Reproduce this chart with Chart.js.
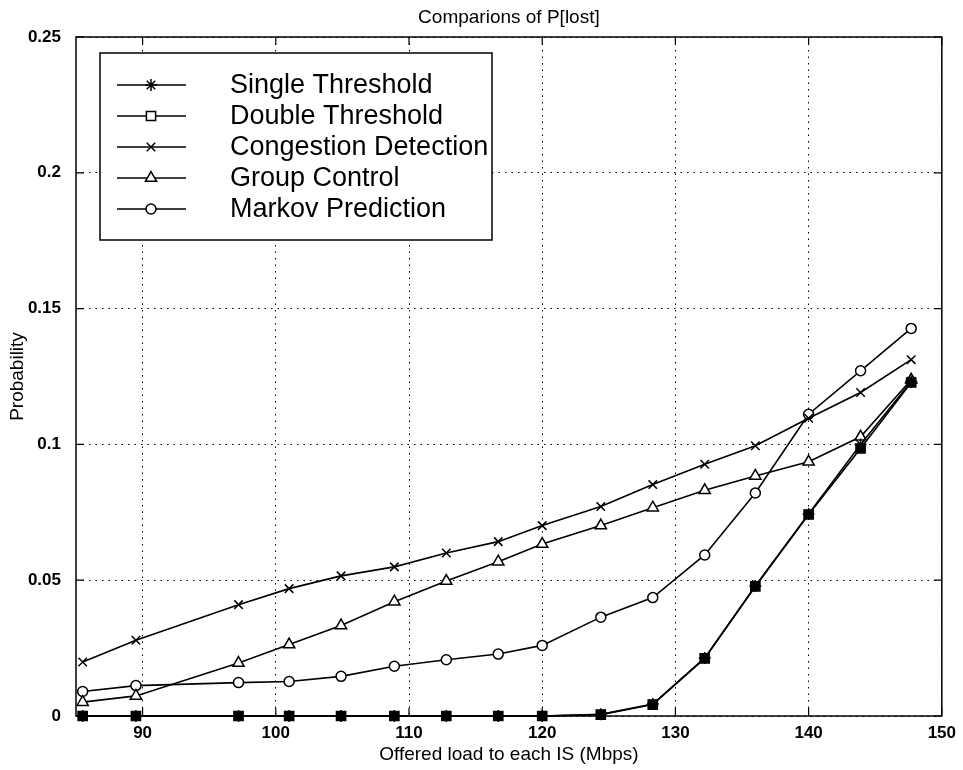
<!DOCTYPE html>
<html>
<head>
<meta charset="utf-8">
<script src="https://cdn.jsdelivr.net/npm/chart.js@4.4.1/dist/chart.umd.min.js"></script>
<style>
  html, body { margin: 0; padding: 0; background: #fff; }
</style>
</head>
<body>
<canvas id="chart1" width="963" height="770"></canvas>
<script>
// offered load (Mbps) for every sample
const loads = [85.5, 89.5, 97.2, 101.0, 104.9, 108.9, 112.8, 116.7, 120.0, 124.4, 128.3, 132.2, 136.0, 140.0, 143.9, 147.7];

const singleThreshold = [0, 0, 0, 0, 0, 0, 0, 0, 0, 0.0006, 0.0044, 0.0214, 0.0479, 0.0744, 0.1000, 0.1232];
const doubleThreshold = [0, 0, 0, 0, 0, 0, 0, 0, 0, 0.0005, 0.0042, 0.0212, 0.0477, 0.0742, 0.0985, 0.1228];
const congestionDetection = [0.0199, 0.0279, 0.0410, 0.0469, 0.0516, 0.0549, 0.0600, 0.0642, 0.0701, 0.0771, 0.0852, 0.0927, 0.0995, 0.1096, 0.1191, 0.1312];
const groupControl = [0.0051, 0.0074, 0.0195, 0.0263, 0.0333, 0.0421, 0.0497, 0.0568, 0.0633, 0.0701, 0.0767, 0.0831, 0.0884, 0.0936, 0.1028, 0.1238];
const markovPrediction = [0.0090, 0.0112, 0.0123, 0.0127, 0.0146, 0.0183, 0.0207, 0.0228, 0.0260, 0.0364, 0.0436, 0.0593, 0.0821, 0.1111, 0.1271, 0.1427];

const seriesNames = ['Single Threshold', 'Double Threshold', 'Congestion Detection', 'Group Control', 'Markov Prediction'];
const xTicks = [90, 100, 110, 120, 130, 140, 150];
const yTicks = [0, 0.05, 0.1, 0.15, 0.2, 0.25];
const yTickLabels = ['0', '0.05', '0.1', '0.15', '0.2', '0.25'];

const FONT = '"Liberation Sans", Arial, Helvetica, sans-serif';

function pts(values) {
  return values.map((v, i) => ({ x: loads[i], y: v }));
}

function series(label, values, style, radius, fill) {
  return {
    label: label,
    data: pts(values),
    borderColor: '#000',
    borderWidth: 1.6,
    pointStyle: style,
    pointRadius: radius,
    pointHoverRadius: radius,
    pointBorderColor: '#000',
    pointBorderWidth: 1.5,
    pointBackgroundColor: fill,
    tension: 0,
    clip: false
  };
}

const datasets = [
  series(seriesNames[0], singleThreshold, 'star', 6, '#000'),
  series(seriesNames[1], doubleThreshold, 'rect', 6.5, '#000'),
  series(seriesNames[2], congestionDetection, 'crossRot', 6, '#fff'),
  series(seriesNames[3], groupControl, 'triangle', 6.5, '#fff'),
  series(seriesNames[4], markovPrediction, 'circle', 5, '#fff')
];

// frame + inward tick marks, like a matlab box
const framePlugin = {
  id: 'frame',
  beforeDatasetsDraw(chart) {
    const ctx = chart.ctx;
    const a = chart.chartArea;
    const xs = chart.scales.x, ys = chart.scales.y;
    ctx.save();
    ctx.strokeStyle = '#000';
    ctx.lineWidth = 1.5;
    ctx.strokeRect(a.left, a.top, a.right - a.left, a.bottom - a.top);
    ctx.lineWidth = 1.2;
    ctx.beginPath();
    xTicks.forEach(v => {
      const px = xs.getPixelForValue(v);
      ctx.moveTo(px, a.bottom); ctx.lineTo(px, a.bottom - 8);
      ctx.moveTo(px, a.top); ctx.lineTo(px, a.top + 8);
    });
    yTicks.forEach(v => {
      const py = ys.getPixelForValue(v);
      ctx.moveTo(a.left, py); ctx.lineTo(a.left + 8, py);
      ctx.moveTo(a.right, py); ctx.lineTo(a.right - 8, py);
    });
    ctx.stroke();
    ctx.restore();
  },
  afterDraw(chart) {
    const ctx = chart.ctx;
    const a = chart.chartArea;
    ctx.save();
    ctx.fillStyle = '#000';
    ctx.textAlign = 'center';
    ctx.textBaseline = 'middle';
    ctx.font = '19px ' + FONT;
    ctx.fillText('Comparions of P[lost]', (a.left + a.right) / 2, 18);
    ctx.fillText('Offered load to each IS (Mbps)', (a.left + a.right) / 2, 755);
    ctx.translate(18, (a.top + a.bottom) / 2);
    ctx.rotate(-Math.PI / 2);
    ctx.fillText('Probability', 0, 0);
    ctx.restore();
  }
};

// legend with a line segment and marker per entry
const legendPlugin = {
  id: 'lineLegend',
  afterDraw(chart) {
    const ctx = chart.ctx;
    const box = { left: 100, top: 53, right: 492, bottom: 240 };
    ctx.save();
    ctx.fillStyle = '#fff';
    ctx.fillRect(box.left, box.top, box.right - box.left, box.bottom - box.top);
    ctx.strokeStyle = '#000';
    ctx.lineWidth = 1.5;
    ctx.strokeRect(box.left, box.top, box.right - box.left, box.bottom - box.top);
    ctx.font = '27px ' + FONT;
    ctx.textBaseline = 'middle';
    ctx.textAlign = 'left';
    chart.data.datasets.forEach((ds, i) => {
      const y = 85 + i * 31;
      ctx.strokeStyle = '#000';
      ctx.lineWidth = 1.5;
      ctx.beginPath();
      ctx.moveTo(117, y);
      ctx.lineTo(186, y);
      ctx.stroke();
      ctx.fillStyle = '#fff';
      Chart.helpers.drawPoint(ctx, {
        pointStyle: ds.pointStyle,
        radius: ds.pointRadius,
        rotation: 0,
        borderWidth: 1.5
      }, 151, y);
      ctx.fillStyle = '#000';
      ctx.fillText(ds.label, 230, y + 1);
    });
    ctx.restore();
  }
};

function renderChart() {
  const ctx1 = document.getElementById('chart1');

  new Chart(ctx1, {
    type: 'line',
    data: { datasets: datasets },
    plugins: [framePlugin, legendPlugin],
    options: {
      responsive: false,
      animation: false,
      events: [],
      layout: { padding: { top: 37, right: 18, left: 0, bottom: 0 } },
      plugins: {
        legend: { display: false },
        title: { display: false },
        tooltip: { enabled: false }
      },
      scales: {
        x: {
          type: 'linear',
          min: 85,
          max: 150,
          afterBuildTicks: s => { s.ticks = xTicks.map(v => ({ value: v })); },
          afterFit: s => { s.height = 54; },
          ticks: {
            color: '#000',
            padding: 7,
            maxRotation: 0,
            font: { family: FONT, size: 17, weight: 'bold' },
            callback: v => String(v)
          },
          grid: { color: '#000', lineWidth: 1, drawTicks: false },
          border: { display: false, dash: [1.5, 5] }
        },
        y: {
          type: 'linear',
          min: 0,
          max: 0.25,
          afterBuildTicks: s => { s.ticks = yTicks.map(v => ({ value: v })); },
          afterFit: s => { s.width = 76; },
          ticks: {
            color: '#000',
            padding: 15,
            font: { family: FONT, size: 17, weight: 'bold' },
            callback: v => yTickLabels[yTicks.indexOf(v)]
          },
          grid: { color: '#000', lineWidth: 1, drawTicks: false },
          border: { display: false, dash: [1.5, 5] }
        }
      }
    }
  });
}
renderChart();
</script>
</body>
</html>
